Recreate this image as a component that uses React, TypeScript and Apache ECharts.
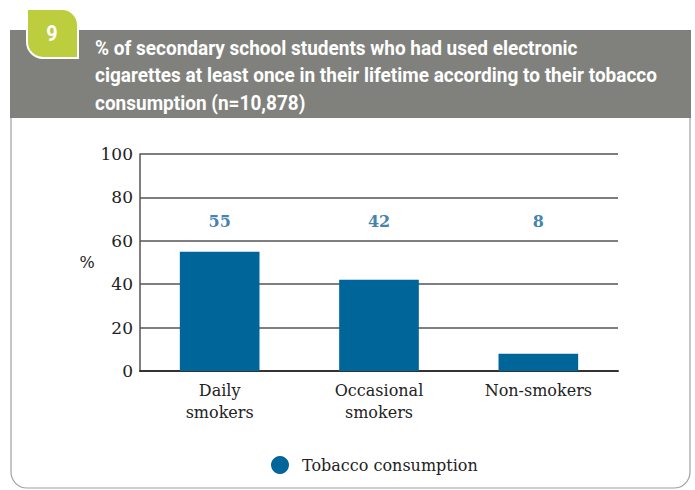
import React, { useEffect, useRef } from "react";
import * as echarts from "echarts";

const categories = ["Daily\nsmokers", "Occasional\nsmokers", "Non-smokers"];
const values = [55, 42, 8];
const seriesName = "Tobacco consumption";
const yTicks = [0, 20, 40, 60, 80, 100];
const labelLevel = 68.7;
const titleLines = [
  "% of secondary school students who had used electronic",
  "cigarettes at least once in their lifetime according to their tobacco",
  "consumption (n=10,878)",
];
const figureNumber = "9";

export default function App() {
  const ref = useRef<HTMLDivElement>(null);
  useEffect(() => {
    const chart = echarts.init(ref.current!, null, { renderer: "svg" });
    const serif = "'DejaVu Serif', 'Liberation Serif', serif";
    const sans = "Roboto, 'Liberation Sans', sans-serif";
    chart.setOption({
      animation: false,
      backgroundColor: "#ffffff",
      graphic: [
        {
          type: "rect",
          z: -10,
          shape: { x: 11, y: 100, width: 679, height: 388, r: 16 },
          style: { fill: "none", stroke: "#a0a0a0", lineWidth: 1.2 },
          silent: true,
        },
        {
          type: "rect",
          z: -5,
          shape: { x: 10, y: 30, width: 681, height: 88 },
          style: { fill: "#80817c" },
          silent: true,
        },
        {
          type: "rect",
          z: -4,
          shape: { x: 27, y: 9, width: 51, height: 49, r: [0, 16, 0, 16] },
          style: { fill: "#bccd3d", stroke: "#ffffff", lineWidth: 2 },
          silent: true,
        },
        {
          type: "text",
          z: -3,
          x: 52,
          y: 34,
          scaleX: 0.9,
          style: {
            x: 0,
            y: 0,
            text: figureNumber,
            fill: "#ffffff",
            font: `bold 22px ${sans}`,
            align: "center",
            verticalAlign: "middle",
          },
          silent: true,
        },
        ...titleLines.map((t, i) => ({
          type: "text",
          z: -3,
          x: 95,
          y: 48 + i * 27.5,
          scaleX: 0.95,
          style: {
            x: 0,
            y: 0,
            text: t,
            fill: "#ffffff",
            font: `bold 20px ${sans}`,
            align: "left",
            verticalAlign: "middle",
          },
          silent: true,
        })),
      ],
      legend: {
        left: 266,
        top: 451,
        icon: "circle",
        itemWidth: 18,
        itemHeight: 18,
        data: [seriesName],
        textStyle: { fontFamily: serif, fontSize: 16, color: "#222", padding: [0, 0, 0, 8] },
      },
      grid: { left: 140, right: 77, top: 154, bottom: 119 },
      xAxis: {
        type: "category",
        data: categories,
        axisTick: { show: false },
        axisLine: { lineStyle: { color: "#333", width: 2 } },
        axisLabel: {
          fontFamily: serif,
          fontSize: 16,
          color: "#222",
          lineHeight: 22,
          margin: 8,
          interval: 0,
        },
      },
      yAxis: {
        type: "value",
        min: 0,
        max: 100,
        interval: 20,
        name: "%",
        nameLocation: "middle",
        nameRotate: 0,
        nameGap: 45,
        nameTextStyle: { fontFamily: serif, fontSize: 16, color: "#222" },
        axisLine: { show: true, lineStyle: { color: "#555", width: 1.5 } },
        axisTick: { show: false },
        splitLine: { lineStyle: { color: "#555", width: 1.5 } },
        axisLabel: {
          fontFamily: serif,
          fontSize: 17,
          color: "#222",
          margin: 7,
          formatter: (v: number) => (yTicks.includes(v) ? String(v) : ""),
        },
      },
      series: [
        {
          name: seriesName,
          type: "bar",
          data: values,
          barWidth: "50%",
          itemStyle: { color: "#006699" },
        },
        {
          name: "labels",
          type: "scatter",
          data: values.map(() => labelLevel),
          symbolSize: 0,
          silent: true,
          label: {
            show: true,
            position: "inside",
            formatter: (p: any) => String(values[p.dataIndex]),
            fontFamily: serif,
            fontWeight: "bold",
            fontSize: 16,
            color: "#0f6496",
          },
        },
      ],
    });
    return () => chart.dispose();
  }, []);
  return (
    <div
      ref={ref}
      style={{ position: "fixed", left: 0, top: 0, width: 695, height: 490 }}
    />
  );
}
